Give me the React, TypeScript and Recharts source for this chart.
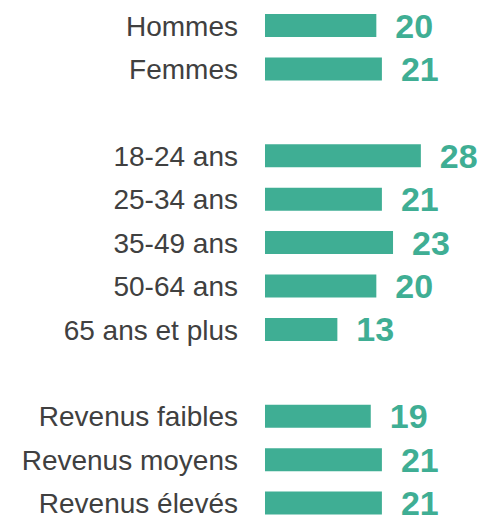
import { BarChart, Bar, XAxis, YAxis, LabelList } from "recharts";

// blank entries are the spacer rows between the three groups
const categories = [
  "Hommes",
  "Femmes",
  " ",
  "18-24 ans",
  "25-34 ans",
  "35-49 ans",
  "50-64 ans",
  "65 ans et plus",
  "  ",
  "Revenus faibles",
  "Revenus moyens",
  "Revenus élevés",
];
const values: (number | null)[] = [20, 21, null, 28, 21, 23, 20, 13, null, 19, 21, 21];

const data = categories.map((name, i) => ({ name, value: values[i] }));

const TEAL = "#3fae94";

export default function App() {
  return (
    <div style={{ position: "absolute", left: 0, top: 0, width: 485, height: 517, overflow: "hidden", background: "#fff" }}>
      <BarChart
        width={485}
        height={525}
        data={data}
        layout="vertical"
        margin={{ top: 4, right: 53, left: 0, bottom: 0 }}
      >
        <XAxis type="number" domain={[0, 30]} hide />
        <YAxis
          type="category"
          dataKey="name"
          width={265}
          axisLine={false}
          tickLine={false}
          tickSize={0}
          tickMargin={27}
          interval={0}
          tick={{ fill: "#404040", fontSize: 28, fontFamily: "Liberation Sans, Arial, sans-serif" }}
        />
        <Bar dataKey="value" fill={TEAL} barSize={23} isAnimationActive={false}>
          <LabelList
            dataKey="value"
            position="right"
            offset={19}
            formatter={(v: any) => (v == null ? "" : v)}
            style={{ fill: TEAL, fontSize: 34, fontWeight: 700, fontFamily: "Liberation Sans, Arial, sans-serif" }}
          />
        </Bar>
      </BarChart>
    </div>
  );
}
